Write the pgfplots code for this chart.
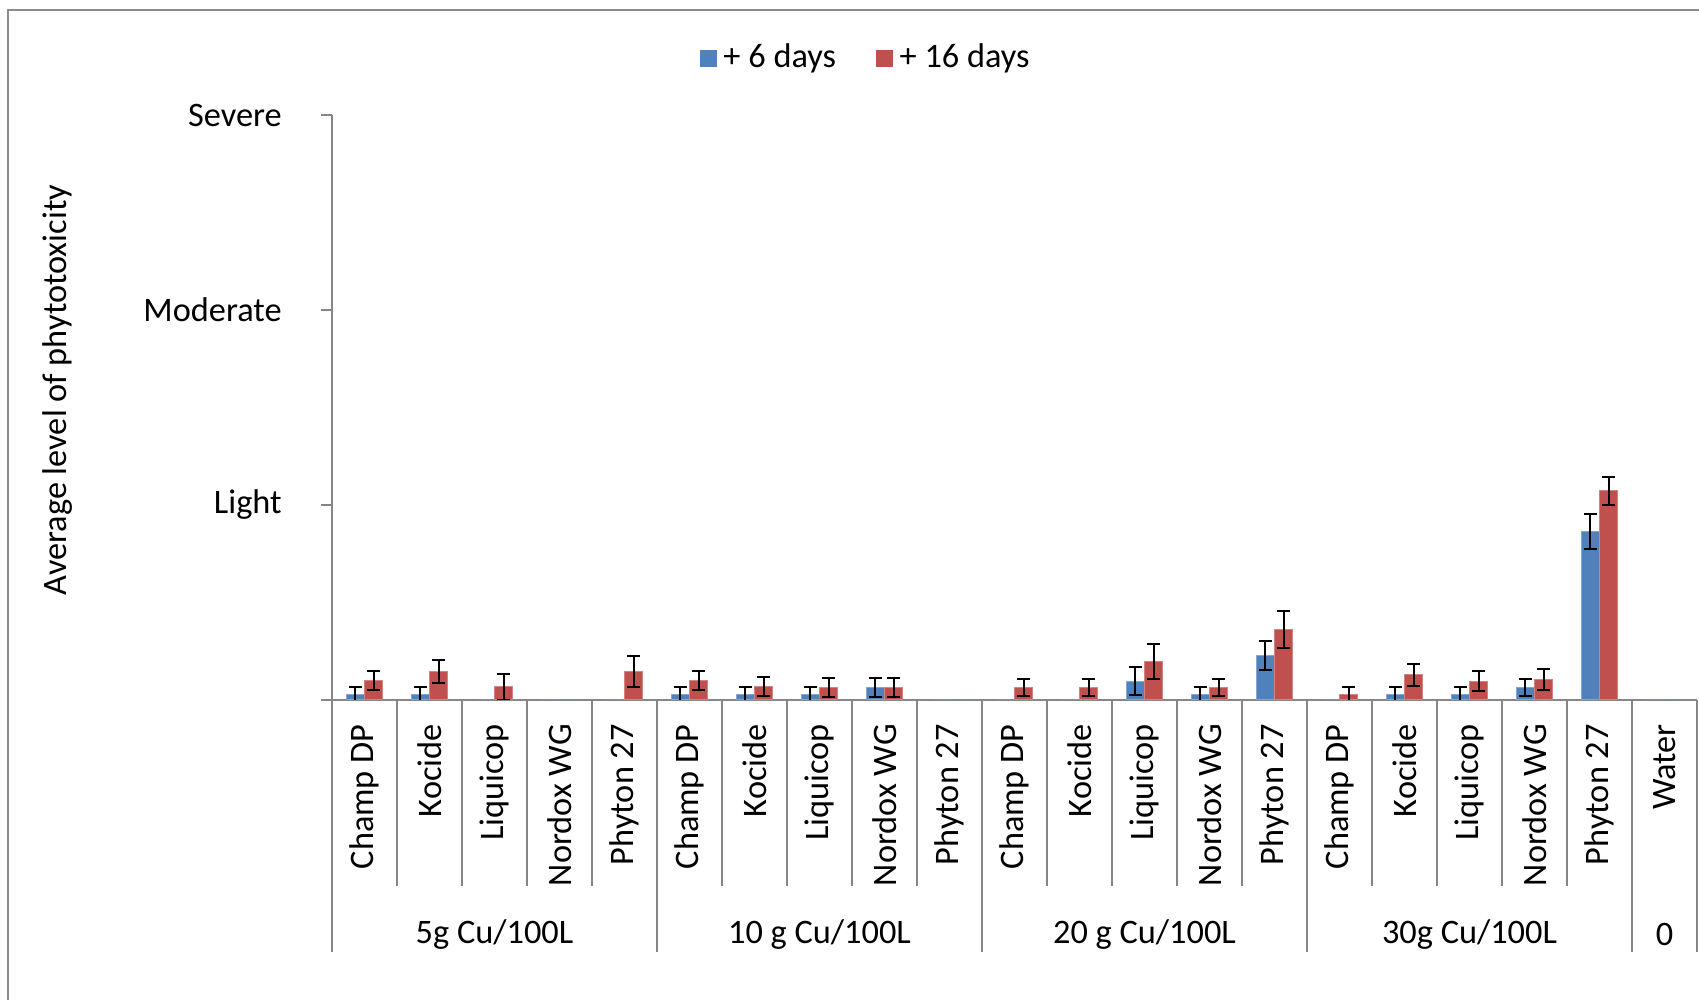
\documentclass[border=0pt]{standalone}
\usepackage{fontspec}
\setmainfont{Carlito}
\usepackage{pgfplots}
\usepackage{pgfplotstable}
\pgfplotsset{compat=1.18}
\definecolor{blue6}{HTML}{4F81BD}
\definecolor{red16}{HTML}{C0504D}
\definecolor{axisgray}{HTML}{868686}
\definecolor{bordergray}{HTML}{8C8C8C}

\pgfplotstableread{
x a ae b be
0 0.030 0.035 0.100 0.050
1 0.030 0.035 0.145 0.060
2 0.000 0.000 0.067 0.067
3 0.000 0.000 0.000 0.000
4 0.000 0.000 0.145 0.080
5 0.030 0.035 0.100 0.050
6 0.030 0.035 0.070 0.050
7 0.030 0.035 0.065 0.048
8 0.065 0.048 0.065 0.048
9 0.000 0.000 0.000 0.000
10 0.000 0.000 0.065 0.045
11 0.000 0.000 0.065 0.045
12 0.097 0.072 0.198 0.090
13 0.030 0.035 0.065 0.045
14 0.230 0.075 0.363 0.095
15 0.000 0.000 0.030 0.035
16 0.030 0.035 0.130 0.056
17 0.030 0.035 0.097 0.050
18 0.065 0.045 0.107 0.054
19 0.866 0.090 1.072 0.070
20 0.000 0.000 0.000 0.000
}\data

\pgfplotsset{myerr/.style={draw=none, mark=none, forget plot,
  error bars/.cd, y dir=both, y explicit,
  error bar style={draw=black, line width=0.6pt, solid},
  error mark options={rotate=90, draw=black, mark size=1.9pt, line width=0.6pt, solid}}}

\begin{document}
\fontsize{10.3}{12}\selectfont
\begin{tikzpicture}
\path[use as bounding box] (0,0) rectangle (509.7pt,300pt);
\draw[bordergray, line width=0.6pt] (2.4pt,0) -- (2.4pt,297pt) -- (509.7pt,297pt);
\begin{axis}[
  at={(99.6pt,90pt)}, anchor=south west,
  scale only axis, width=409.5pt, height=175.5pt,
  xmin=-0.5, xmax=20.5, ymin=0, ymax=3,
  clip mode=individual,
  axis x line*=bottom, axis y line*=left,
  axis line style={draw=axisgray, line width=0.6pt, -},
  xtick={0,...,20},
  xticklabels={Champ DP,Kocide,Liquicop,Nordox WG,Phyton 27,Champ DP,Kocide,Liquicop,Nordox WG,Phyton 27,Champ DP,Kocide,Liquicop,Nordox WG,Phyton 27,Champ DP,Kocide,Liquicop,Nordox WG,Phyton 27,Water},
  xtick style={draw=none},
  xticklabel style={rotate=90, anchor=east, inner sep=0pt},
  xticklabel shift=3.8pt,
  ytick={0,1,2,3},
  yticklabels={,Light,Moderate,Severe},
  ytick style={draw=axisgray, line width=0.6pt},
  tick align=outside, major tick length=3.3pt,
  yticklabel style={inner sep=0pt, anchor=east},
  yticklabel shift=11.6pt,
  legend style={at={(0.3927,1.097)}, anchor=center, draw=none, fill=none,
    legend columns=2, /tikz/every even column/.append style={column sep=10pt},
    inner sep=0pt},
  legend image code/.code={\fill[#1,draw=none] (0pt,-2.55pt) rectangle (5.1pt,2.55pt);},
]
\addplot[ybar, bar width=0.28, bar shift=-0.14, fill=blue6, draw=blue6!70!white, line width=0.3pt]
  table[x=x, y=a] {\data};
\addlegendentry{+ 6 days}
\addplot[ybar, bar width=0.28, bar shift=0.14, fill=red16, draw=red16!70!white, line width=0.3pt]
  table[x=x, y=b] {\data};
\addlegendentry{+ 16 days}
\addplot[myerr]
  table[x expr={\thisrow{x}-0.14}, y expr={\thisrow{ae}>0 ? \thisrow{a} : nan}, y error=ae] {\data};
\addplot[myerr]
  table[x expr={\thisrow{x}+0.14}, y expr={\thisrow{be}>0 ? \thisrow{b} : nan}, y error=be] {\data};
\end{axis}
\foreach \i in {0,...,21} \draw[axisgray, line width=0.5pt] ({99.6pt+\i*19.5pt},90pt) -- ++(0,-55.8pt);
\foreach \i in {0,5,10,15,20,21} \draw[axisgray, line width=0.5pt] ({99.6pt+\i*19.5pt},90pt) -- ++(0,-75.6pt);
\node at ({99.6pt+2.5*19.5pt},19.6pt) {5g Cu/100L};
\node at ({99.6pt+7.5*19.5pt},19.6pt) {10 g Cu/100L};
\node at ({99.6pt+12.5*19.5pt},19.6pt) {20 g Cu/100L};
\node at ({99.6pt+17.5*19.5pt},19.6pt) {30g Cu/100L};
\node at ({99.6pt+20.5*19.5pt},19.6pt) {0};
\node[rotate=90] at (17.4pt,183pt) {Average level of phytotoxicity};
\end{tikzpicture}
\end{document}
